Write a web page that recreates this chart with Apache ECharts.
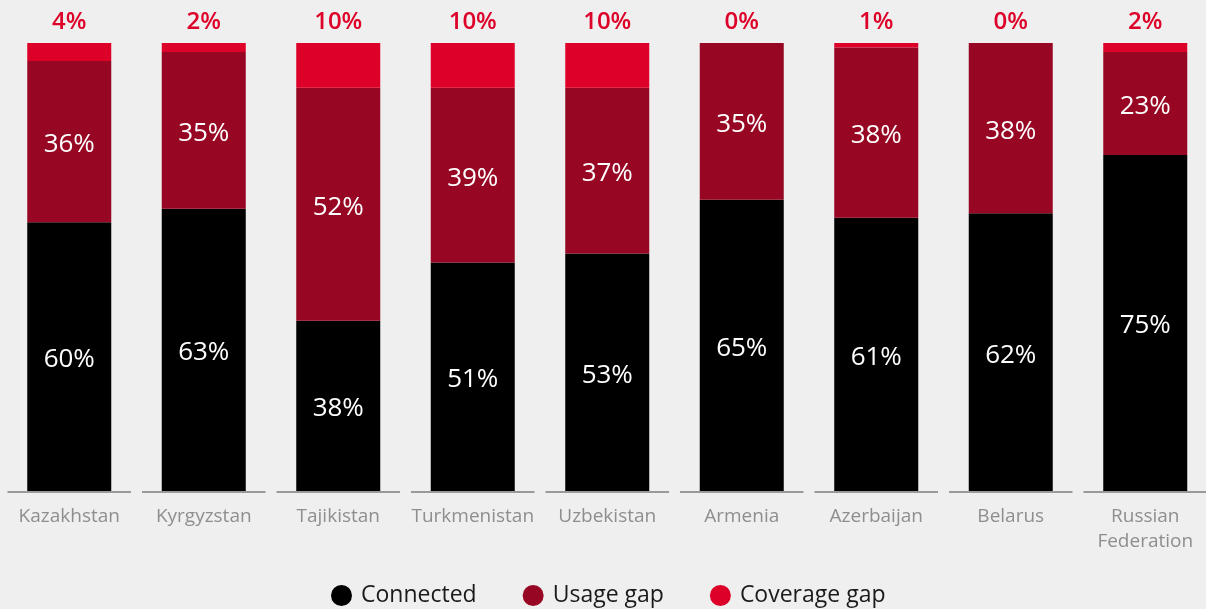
<!DOCTYPE html>
<html>
<head>
<meta charset="utf-8">
<script src="https://cdn.jsdelivr.net/npm/echarts@6/dist/echarts.min.js"></script>
<style>
  html, body { margin: 0; padding: 0; background: #efefef; overflow: hidden; }
  #chart { width: 1216px; height: 609px; }
</style>
</head>
<body>
<div id="chart"></div>
<script>
// Mobile connectivity breakdown by country (% of population)
const countries = ['Kazakhstan', 'Kyrgyzstan', 'Tajikistan', 'Turkmenistan', 'Uzbekistan',
  'Armenia', 'Azerbaijan', 'Belarus', 'Russian\nFederation'];
const connected = [60, 63, 38, 51, 53, 65, 61, 62, 75];
const usageGap = [36, 35, 52, 39, 37, 35, 38, 38, 23];
const coverageGap = [4, 2, 10, 10, 10, 0, 1, 0, 2];

const FONT = 'Open Sans';
const chart = echarts.init(document.getElementById('chart'));

const innerLabel = {
  show: true,
  position: 'inside',
  offset: [0, 3],
  color: '#ffffff',
  fontFamily: FONT,
  fontSize: 26,
  formatter: p => p.value + '%'
};

chart.setOption({
  backgroundColor: '#efefef',
  animation: false,
  grid: { left: 2, top: 43, width: 1210.5, height: 448, containLabel: false },
  legend: {
    bottom: -3,
    left: 326,
    itemWidth: 21,
    itemHeight: 23,
    itemGap: 46,
    icon: 'circle',
    textStyle: { fontFamily: FONT, fontSize: 23, color: '#1a1a1a', padding: [0, 0, 0, 4] },
    data: ['Connected', 'Usage gap', 'Coverage gap']
  },
  xAxis: {
    type: 'category',
    data: countries,
    axisLine: { show: false },
    axisTick: { show: false },
    axisLabel: {
      color: '#8e8e8e',
      fontFamily: FONT,
      fontSize: 19,
      lineHeight: 25,
      margin: 13,
      interval: 0
    }
  },
  yAxis: {
    type: 'value',
    min: 0,
    max: 100,
    show: false
  },
  series: [
    {
      name: 'Connected',
      type: 'bar',
      stack: 'total',
      barWidth: 84,
      itemStyle: { color: '#000000' },
      label: innerLabel,
      data: connected
    },
    {
      name: 'Usage gap',
      type: 'bar',
      stack: 'total',
      itemStyle: { color: '#970723' },
      label: innerLabel,
      data: usageGap
    },
    {
      name: 'Coverage gap',
      type: 'bar',
      stack: 'total',
      itemStyle: { color: '#dd0029' },
      label: {
        show: true,
        position: 'top',
        distance: 9,
        color: '#dd0029',
        fontFamily: FONT,
        fontSize: 24,
        fontWeight: 600,
        formatter: p => p.value + '%'
      },
      data: coverageGap
    },
    {
      // baseline segment under each category
      name: 'baseline',
      type: 'custom',
      silent: true,
      z: 1,
      data: countries.map((c, i) => [i, 0]),
      renderItem: (params, api) => {
        const p = api.coord([api.value(0), 0]);
        const half = api.size([1, 0])[0] / 2 - 5.5;
        return {
          type: 'line',
          shape: { x1: p[0] - half, y1: p[1] + 1, x2: p[0] + half, y2: p[1] + 1 },
          style: { stroke: '#9a9a9a', lineWidth: 2 }
        };
      }
    }
  ]
});
</script>
</body>
</html>
